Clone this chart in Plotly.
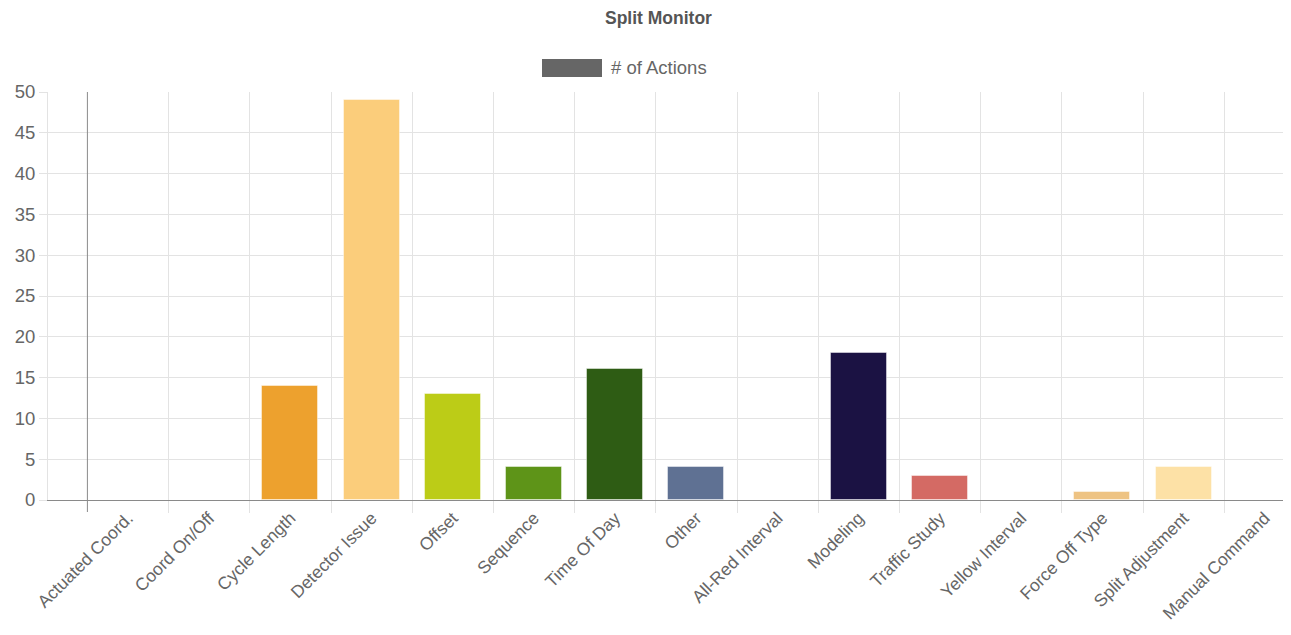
import plotly.graph_objects as go

categories = ["Actuated Coord.", "Coord On/Off", "Cycle Length", "Detector Issue", "Offset",
              "Sequence", "Time Of Day", "Other", "All-Red Interval", "Modeling",
              "Traffic Study", "Yellow Interval", "Force Off Type", "Split Adjustment", "Manual Command"]
actions = [0, 0, 14, 49, 13, 4, 16, 4, 0, 18, 3, 0, 1, 4, 0]
bar_colors = ["#8C8C8C", "#B0B0B0", "#EDA12E", "#FBCD7B", "#BCCC17",
              "#5E9418", "#2E5C14", "#5F7193", "#C0392B", "#1B1243",
              "#D46A64", "#F4D03F", "#EEC383", "#FDE1A6", "#7F8C8D"]
series_name = "# of Actions"
y_ticks = list(range(0, 55, 5))

# page body has an 8px default margin; compensate
OFF = 8
W, H = 1291 - OFF, 635 - 2 * OFF
L, R, T = 48 - OFF, 0, 92 - OFF
B = H - (500 - OFF)
PW, PH = W - L - R, H - T - B
FONT = "Arial, Liberation Sans, sans-serif"
GRID = "#e3e3e3"
TXT = "#666666"


def px(xpage):
    return (xpage - OFF - L) / PW


def py(ypage):
    return (H - B - (ypage - OFF)) / PH


idx = list(range(len(categories)))
fig = go.Figure()
fig.add_trace(go.Bar(
    x=idx, y=actions, name=series_name, width=0.69,
    marker=dict(color=bar_colors, line=dict(color="rgba(255,255,255,0.45)", width=1)),
    showlegend=False,
))

cw = 81.2
c0 = 128 - OFF
x0 = (L - c0) / cw
x1 = (W - R - c0) / cw

fig.update_layout(
    width=W, height=H,
    margin=dict(l=L, r=R, t=T, b=B),
    plot_bgcolor="white", paper_bgcolor="white",
    font=dict(family=FONT, size=18, color=TXT),
    bargap=0,
    xaxis=dict(
        range=[x0, x1], tickmode="array", tickvals=idx, ticktext=categories,
        tickangle=-45, showgrid=False, ticks="", zeroline=False,
        showline=True, linecolor="#8a8a8a", linewidth=1,
        tickfont=dict(size=17.5, color=TXT),
        minor=dict(tickmode="array", tickvals=[i - 0.5 for i in idx[1:]],
                   showgrid=True, gridcolor=GRID, gridwidth=1,
                   ticks="outside", ticklen=12, tickcolor=GRID),
        fixedrange=True,
    ),
    yaxis=dict(
        range=[0, 50], tickmode="array", tickvals=y_ticks,
        showgrid=True, gridcolor=GRID, gridwidth=1, zeroline=False,
        ticks="outside", ticklen=8, tickcolor=GRID,
        showline=True, linecolor=GRID,
        tickfont=dict(size=18.5, color=TXT),
        fixedrange=True,
    ),
    shapes=[
        dict(type="line", xref="x", yref="paper", x0=-0.5, x1=-0.5, y0=-12 / PH, y1=1,
             line=dict(color="#8a8a8a", width=1)),
        dict(type="rect", xref="paper", yref="paper",
             x0=px(542), x1=px(602), y0=py(77), y1=py(59),
             fillcolor="#666666", line=dict(color="#666666", width=0)),
    ],
    annotations=[
        dict(text="<b>Split Monitor</b>", xref="paper", yref="paper",
             x=px(658), y=py(18), xanchor="center", yanchor="middle", showarrow=False,
             font=dict(size=17.5, color="#555555", family=FONT)),
        dict(text=series_name, xref="paper", yref="paper",
             x=px(609), y=py(68), xanchor="left", yanchor="middle", showarrow=False,
             font=dict(size=18.5, color=TXT, family=FONT)),
    ],
)

fig.write_html("out.html")
